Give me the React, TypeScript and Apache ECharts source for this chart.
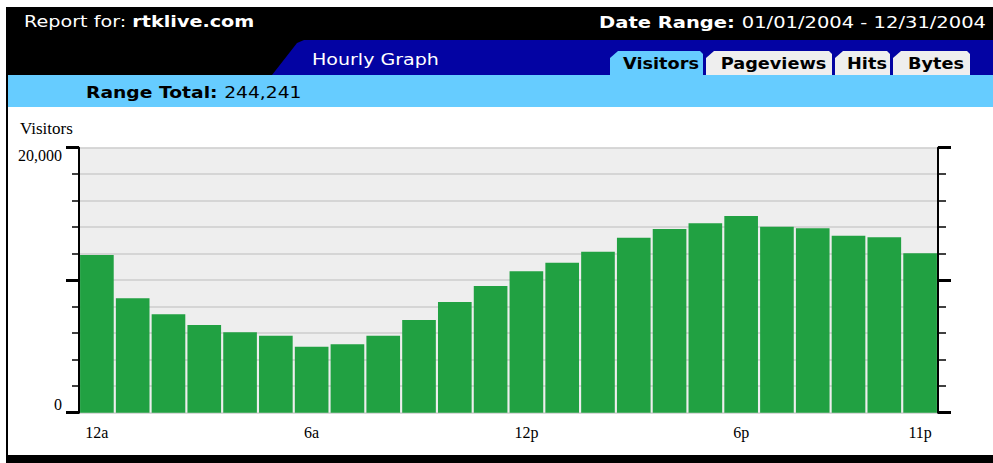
import React, { useEffect, useRef } from "react";
import * as echarts from "echarts";

const hours = [
  "12a", "1a", "2a", "3a", "4a", "5a", "6a", "7a", "8a", "9a", "10a", "11a",
  "12p", "1p", "2p", "3p", "4p", "5p", "6p", "7p", "8p", "9p", "10p", "11p",
];
const visitors = [
  11900, 8630, 7430, 6620, 6070, 5810, 4980, 5160, 5810, 7000, 8350, 9560,
  10670, 11320, 12150, 13210, 13860, 14290, 14850, 14040, 13920, 13360, 13240, 12030,
];
const shownLabels = ["12a", "6a", "12p", "6p", "11p"];
const yLabels: Record<number, string> = { 0: "0", 20000: "20,000" };
const tabs = ["Visitors", "Pageviews", "Hits", "Bytes"];

const UI = "'DejaVu Sans', Verdana, sans-serif";
const SERIF = "'Liberation Serif', 'DejaVu Serif', serif";

export default function App() {
  const ref = useRef<HTMLDivElement>(null);
  useEffect(() => {
    if (!ref.current) return;
    const chart = echarts.init(ref.current, undefined, { renderer: "svg" });
    const tabBoxes = [
      { x0: 610, x1: 703, fill: "#66ccff" },
      { x0: 706, x1: 832, fill: "#eeeeee" },
      { x0: 835, x1: 890, fill: "#eeeeee" },
      { x0: 893, x1: 970, fill: "#eeeeee" },
    ];
    const tabGraphics: any[] = [];
    tabBoxes.forEach((t, i) => {
      tabGraphics.push({
        type: "polygon",
        shape: {
          points: [
            [t.x0, 75], [t.x0, 58], [t.x0 + 8, 51], [t.x1 - 3, 51], [t.x1, 54], [t.x1, 75],
          ],
        },
        style: { fill: t.fill },
        z: 2,
      });
      tabGraphics.push({
        type: "text",
        x: (t.x0 + t.x1) / 2 + 4.5,
        y: 64,
        scaleX: 1.18,
        style: {
          text: tabs[i],
          font: `bold 15px ${UI}`,
          fill: "#000",
          align: "center",
          verticalAlign: "middle",
        },
        z: 3,
      });
    });

    chart.setOption({
      animation: false,
      backgroundColor: "#ffffff",
      grid: {
        left: 79,
        right: 55,
        top: 147.7,
        bottom: 50.3,
        show: true,
        backgroundColor: "#eeeeee",
        borderWidth: 0,
      },
      xAxis: {
        type: "category",
        data: hours,
        axisLine: { show: false },
        axisTick: { show: false },
        axisLabel: {
          interval: (_i: number, v: string) => shownLabels.includes(v),
          fontFamily: SERIF,
          fontSize: 16,
          color: "#000",
          margin: 12,
        },
      },
      yAxis: [
        {
          type: "value",
          min: 0,
          max: 20000,
          interval: 10000,
          position: "left",
          axisLine: { show: true, lineStyle: { color: "#000", width: 2 } },
          axisTick: { show: true, length: 13, lineStyle: { color: "#000", width: 3 } },
          minorTick: { show: true, splitNumber: 5, length: 7, lineStyle: { color: "#000", width: 1.5 } },
          splitLine: { show: true, lineStyle: { color: "#cccccc", width: 1.5 } },
          minorSplitLine: { show: true, lineStyle: { color: "#cccccc", width: 1.5 } },
          axisLabel: {
            formatter: (v: number) => yLabels[v] ?? "",
            fontFamily: SERIF,
            fontSize: 16,
            color: "#000",
            margin: 17,
            verticalAlignMaxLabel: "top",
            verticalAlignMinLabel: "bottom",
          },
        },
        {
          type: "value",
          min: 0,
          max: 20000,
          interval: 10000,
          position: "right",
          axisLine: { show: true, lineStyle: { color: "#000", width: 2 } },
          axisTick: { show: true, length: 13, lineStyle: { color: "#000", width: 3 } },
          minorTick: { show: true, splitNumber: 5, length: 8, lineStyle: { color: "#000", width: 1.5 } },
          splitLine: { show: false },
          axisLabel: { show: false },
        },
      ],
      series: [
        {
          type: "bar",
          data: visitors,
          yAxisIndex: 0,
          barCategoryGap: "6%",
          itemStyle: { color: "#21a142" },
        },
      ],
      graphic: [
        { type: "rect", shape: { x: 6, y: 7, width: 987, height: 68 }, style: { fill: "#000" }, z: 1 },
        {
          type: "polygon",
          shape: {
            points: [[272, 75], [290, 52], [297, 43], [304, 40], [993, 40], [993, 75]],
          },
          style: { fill: "#0303a3" },
          z: 1,
        },
        { type: "rect", shape: { x: 6, y: 75, width: 987, height: 32 }, style: { fill: "#66ccff" }, z: 1 },
        { type: "rect", shape: { x: 6, y: 7, width: 2, height: 456 }, style: { fill: "#000" }, z: 1 },
        { type: "rect", shape: { x: 6, y: 455, width: 987, height: 8 }, style: { fill: "#000" }, z: 1 },
        {
          type: "text",
          x: 24,
          y: 22,
          scaleX: 1.2,
          style: {
            text: "{n|Report for: }{b|rtklive.com}",
            fill: "#fff",
            verticalAlign: "middle",
            rich: {
              n: { font: `16px ${UI}`, fill: "#fff" },
              b: { font: `bold 16px ${UI}`, fill: "#fff" },
            },
          },
          z: 3,
        },
        {
          type: "text",
          x: 986,
          y: 22,
          scaleX: 1.22,
          style: {
            text: "{b|Date Range: }{n|01/01/2004 - 12/31/2004}",
            align: "right",
            verticalAlign: "middle",
            rich: {
              n: { font: `16px ${UI}`, fill: "#fff" },
              b: { font: `bold 16px ${UI}`, fill: "#fff" },
            },
          },
          z: 3,
        },
        {
          type: "text",
          x: 312,
          y: 60,
          scaleX: 1.19,
          style: { text: "Hourly Graph", font: `16px ${UI}`, fill: "#fff", verticalAlign: "middle" },
          z: 3,
        },
        {
          type: "text",
          x: 86,
          y: 92,
          scaleX: 1.17,
          style: {
            text: "{b|Range Total: }{n|244,241}",
            verticalAlign: "middle",
            rich: {
              n: { font: `16px ${UI}`, fill: "#000" },
              b: { font: `bold 16px ${UI}`, fill: "#000" },
            },
          },
          z: 3,
        },
        {
          type: "text",
          x: 20,
          y: 128,
          style: { text: "Visitors", font: `17px ${SERIF}`, fill: "#000", verticalAlign: "middle" },
          z: 3,
        },
        ...tabGraphics,
      ],
    });
    return () => chart.dispose();
  }, []);
  return (
    <div
      ref={ref}
      style={{ position: "fixed", left: 0, top: 0, width: 993, height: 463 }}
    />
  );
}
